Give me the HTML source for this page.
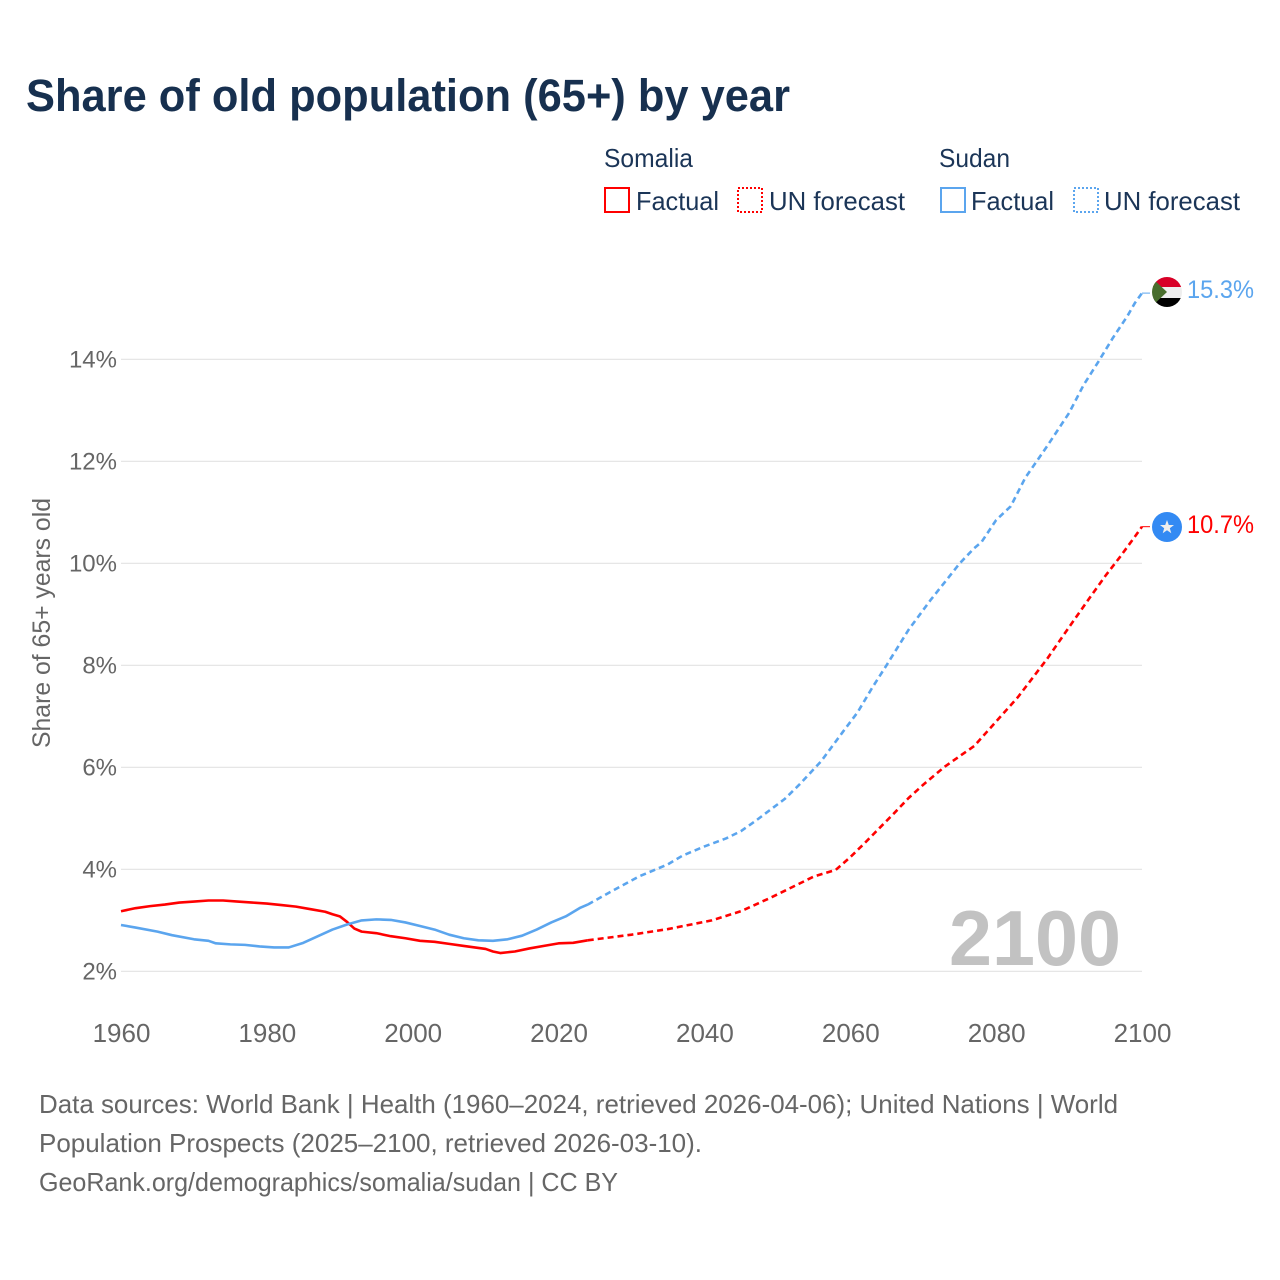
<!DOCTYPE html>
<html lang="en">
<head>
<meta charset="utf-8">
<title>Share of old population (65+) by year</title>
<style>
html,body{margin:0;padding:0;background:#fff}
svg{display:block;font-family:"Liberation Sans",sans-serif}
</style>
</head>
<body>
<svg id="chart" xmlns="http://www.w3.org/2000/svg" width="1280" height="1280" viewBox="0 0 1280 1280">
  <rect width="1280" height="1280" fill="#fff"/>
  <text x="26" y="111" font-size="45" font-weight="700" fill="#17304f" textLength="764" lengthAdjust="spacingAndGlyphs">Share of old population (65+) by year</text>

  <g font-size="26" fill="#1b3557">
    <text x="604" y="167" textLength="89" lengthAdjust="spacingAndGlyphs">Somalia</text>
    <rect x="605" y="188" width="24" height="24" fill="none" stroke="#ff0000" stroke-width="2"/>
    <text x="636" y="210" textLength="83" lengthAdjust="spacingAndGlyphs">Factual</text>
    <rect x="738" y="188" width="24" height="24" fill="none" stroke="#ff0000" stroke-width="2" stroke-dasharray="2 2"/>
    <text x="769" y="210" textLength="136" lengthAdjust="spacingAndGlyphs">UN forecast</text>
    <text x="939" y="167" textLength="71" lengthAdjust="spacingAndGlyphs">Sudan</text>
    <rect x="941" y="188" width="24" height="24" fill="none" stroke="#5ba5ee" stroke-width="2"/>
    <text x="971" y="210" textLength="83" lengthAdjust="spacingAndGlyphs">Factual</text>
    <rect x="1074" y="188" width="24" height="24" fill="none" stroke="#5ba5ee" stroke-width="2" stroke-dasharray="2 2"/>
    <text x="1104" y="210" textLength="136" lengthAdjust="spacingAndGlyphs">UN forecast</text>
  </g>

  <g id="grid"></g>
  <g id="yticks" font-size="24" fill="#666"></g>
  <g id="xticks" font-size="26" fill="#666"></g>
  <text transform="translate(50,748) rotate(-90)" font-size="25" fill="#666" textLength="250" lengthAdjust="spacingAndGlyphs">Share of 65+ years old</text>
  <text x="949" y="965" font-size="78" font-weight="700" fill="#c2c2c2" textLength="172" lengthAdjust="spacingAndGlyphs">2100</text>

  <g id="series"></g>

  <g id="end-markers">
    <defs>
      <clipPath id="clip-sudan"><circle cx="1167" cy="292" r="15"/></clipPath>
    </defs>
    <g id="flag-sudan" clip-path="url(#clip-sudan)">
      <rect x="1152" y="277" width="30" height="10" fill="#d80027"/>
      <rect x="1152" y="287" width="30" height="11" fill="#eeeeee"/>
      <rect x="1152" y="298" width="30" height="10" fill="#000"/>
      <polygon points="1150,276 1167,292 1150,308" fill="#496e2d"/>
    </g>
    <g id="flag-somalia">
      <circle cx="1167" cy="527" r="15" fill="#338af3"/>
      <polygon points="1167,520 1168.8,525 1174,525 1169.8,528.2 1171.3,533.3 1167,530.2 1162.7,533.3 1164.2,528.2 1160,525 1165.2,525" fill="#eeeeee"/>
    </g>
  </g>
  <text id="label-sudan" x="1187" y="298" font-size="25" fill="#5ba5ee" textLength="67" lengthAdjust="spacingAndGlyphs">15.3%</text>
  <text id="label-somalia" x="1187" y="533" font-size="25" fill="#ff0000" textLength="67" lengthAdjust="spacingAndGlyphs">10.7%</text>

  <g font-size="26" fill="#666">
    <text x="39" y="1113" textLength="1079" lengthAdjust="spacingAndGlyphs">Data sources: World Bank | Health (1960–2024, retrieved 2026-04-06); United Nations | World</text>
    <text x="39" y="1152" textLength="663" lengthAdjust="spacingAndGlyphs">Population Prospects (2025–2100, retrieved 2026-03-10).</text>
    <text x="39" y="1191" textLength="579" lengthAdjust="spacingAndGlyphs">GeoRank.org/demographics/somalia/sudan | CC BY</text>
  </g>
</svg>
<script>
const yTicks = [2, 4, 6, 8, 10, 12, 14];
const xTicks = [1960, 1980, 2000, 2020, 2040, 2060, 2080, 2100];

const somaliaFactualYears = [1960,1962,1964,1966,1968,1970,1972,1974,1976,1978,1980,1982,1984,1986,1988,1989,1990,1991,1992,1993,1995,1997,1999,2001,2003,2005,2007,2009,2010,2011,2012,2014,2016,2018,2020,2022,2024];
const somaliaFactualValues = [3.18,3.24,3.28,3.31,3.35,3.37,3.39,3.39,3.37,3.35,3.33,3.30,3.27,3.22,3.17,3.12,3.08,2.97,2.84,2.78,2.75,2.69,2.65,2.60,2.58,2.54,2.50,2.46,2.44,2.39,2.36,2.39,2.45,2.50,2.55,2.56,2.61];
const somaliaForecastYears = [2024,2030,2035,2041,2045,2049,2052,2055,2058,2060,2062,2064,2066,2068,2070,2073,2077,2080,2083,2087,2090,2093,2095,2097,2099,2100];
const somaliaForecastValues = [2.61,2.72,2.83,3.00,3.18,3.44,3.65,3.86,3.99,4.24,4.52,4.81,5.10,5.40,5.66,6.02,6.42,6.90,7.38,8.13,8.75,9.36,9.76,10.13,10.52,10.72];

const sudanFactualYears = [1960,1962,1965,1967,1970,1972,1973,1975,1977,1979,1981,1983,1985,1987,1989,1991,1993,1995,1997,1999,2001,2003,2005,2007,2009,2011,2013,2015,2017,2019,2021,2023,2024];
const sudanFactualValues = [2.91,2.86,2.78,2.71,2.63,2.60,2.55,2.53,2.52,2.49,2.47,2.47,2.56,2.69,2.82,2.92,3.00,3.02,3.01,2.96,2.89,2.82,2.72,2.65,2.61,2.60,2.63,2.70,2.82,2.96,3.08,3.25,3.31];
const sudanForecastYears = [2024,2027,2031,2035,2037,2040,2043,2045,2047,2051,2053,2056,2059,2061,2063,2065,2068,2071,2075,2077,2078,2080,2082,2084,2087,2090,2092,2094,2096,2098,2099,2100];
const sudanForecastValues = [3.31,3.55,3.86,4.10,4.27,4.45,4.61,4.75,4.95,5.38,5.66,6.12,6.70,7.08,7.56,8.01,8.70,9.28,10.00,10.30,10.42,10.85,11.12,11.68,12.30,12.95,13.50,13.95,14.42,14.85,15.10,15.30];

function xScale(year) { return 121 + (year - 1960) * (1142 - 121) / 140; }
function yScale(pct) { return 971.4 - (pct - 2) * 51; }

const NS = 'http://www.w3.org/2000/svg';
const grid = document.getElementById('grid');
const yGroup = document.getElementById('yticks');
const xGroup = document.getElementById('xticks');
const seriesGroup = document.getElementById('series');

yTicks.forEach(function (t) {
  const line = document.createElementNS(NS, 'line');
  
  
  line.setAttribute('x1', xScale(1960));
  line.setAttribute('x2', xScale(2100));
  line.setAttribute('y1', yScale(t));
  line.setAttribute('y2', yScale(t));
  line.setAttribute('stroke', '#e6e6e6');
  line.setAttribute('stroke-width', '1.3');
  grid.appendChild(line);

  const label = document.createElementNS(NS, 'text');
  
  
  label.setAttribute('x', 117);
  label.setAttribute('y', yScale(t) + 8);
  label.setAttribute('text-anchor', 'end');
  label.textContent = t + '%';
  yGroup.appendChild(label);
});

xTicks.forEach(function (t) {
  const label = document.createElementNS(NS, 'text');
  
  
  label.setAttribute('x', xScale(t) + 0.5);
  label.setAttribute('y', 1042);
  label.setAttribute('text-anchor', 'middle');
  label.textContent = t;
  xGroup.appendChild(label);
});

function drawSeries(name, years, values, color, dashed) {
  const path = document.createElementNS(NS, 'path');
  
  
  const d = years.map(function (yr, i) {
    return (i ? 'L' : 'M') + xScale(yr).toFixed(2) + ' ' + yScale(values[i]).toFixed(2);
  }).join(' ');
  path.setAttribute('d', d);
  path.setAttribute('fill', 'none');
  path.setAttribute('stroke', color);
  path.setAttribute('stroke-width', '2.6');
  path.setAttribute('stroke-linejoin', 'round');
  if (dashed) path.setAttribute('stroke-dasharray', '6 4');
  seriesGroup.appendChild(path);
}

function drawConnector(name, value, color) {
  const line = document.createElementNS(NS, 'line');
  
  
  line.setAttribute('x1', xScale(2100));
  line.setAttribute('x2', xScale(2100) + 8);
  line.setAttribute('y1', yScale(value));
  line.setAttribute('y2', yScale(value));
  line.setAttribute('stroke', color);
  line.setAttribute('stroke-width', '1');
  seriesGroup.appendChild(line);
}

drawSeries('somalia-forecast-line', somaliaForecastYears, somaliaForecastValues, '#ff0000', true);
drawSeries('sudan-forecast-line', sudanForecastYears, sudanForecastValues, '#5ba5ee', true);
drawSeries('somalia-factual-line', somaliaFactualYears, somaliaFactualValues, '#ff0000', false);
drawSeries('sudan-factual-line', sudanFactualYears, sudanFactualValues, '#5ba5ee', false);
drawConnector('somalia-end-connector', somaliaForecastValues[somaliaForecastValues.length - 1], '#ff0000');
drawConnector('sudan-end-connector', sudanForecastValues[sudanForecastValues.length - 1], '#5ba5ee');
</script>
</body>
</html>
